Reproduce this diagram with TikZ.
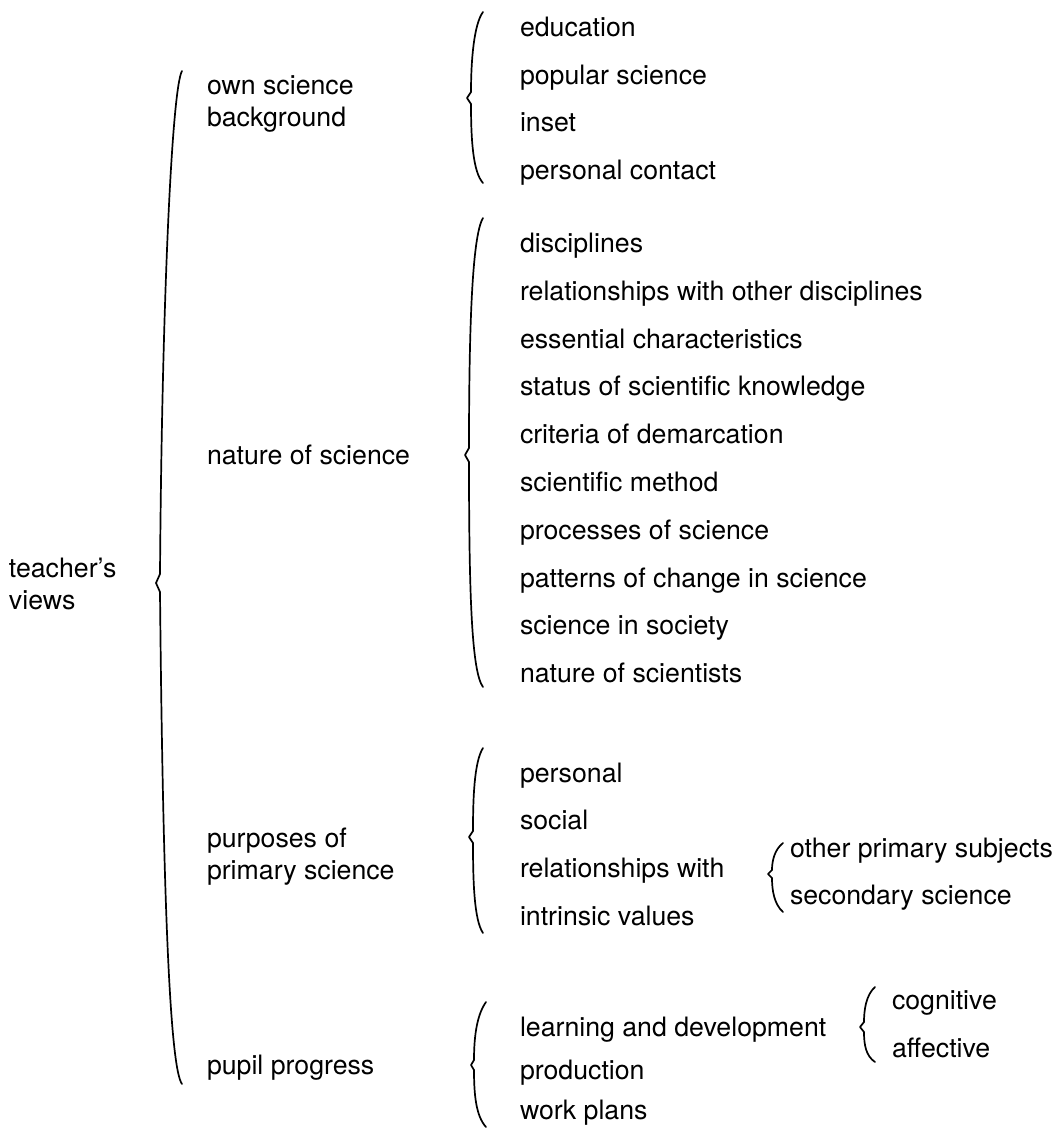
\documentclass[tikz,border=0pt]{standalone}
\usepackage{fontspec}
\setmainfont{TeX Gyre Heros}
\begin{document}
\begin{tikzpicture}[x=1pt,y=-1pt,
  lbl/.style={anchor=base west,inner sep=0pt,outer sep=0pt,font=\fontsize{26.7}{32}\selectfont},
  brc/.style={line width=1.7pt,line cap=round,line join=round}]
\useasboundingbox (0,0) rectangle (1057,1128);
% column 1
\node[lbl] (tv1) at (9,577) {teacher's};
\node[lbl] (tv2) at (9,609) {views};
% column 2
\node[lbl] (os1) at (207,94) {own science};
\node[lbl] (os2) at (207,126) {background};
\node[lbl] (ns) at (207,464) {nature of science};
\node[lbl] (pp1) at (207,847) {purposes of};
\node[lbl] (pp2) at (207,879) {primary science};
\node[lbl] (pu) at (207,1074) {pupil progress};
% column 3
\node[lbl] (a1) at (520,36) {education};
\node[lbl] (a2) at (520,84) {popular science};
\node[lbl] (a3) at (520,131) {inset};
\node[lbl] (a4) at (520,179) {personal contact};
\node[lbl] (b1) at (520,252) {disciplines};
\node[lbl] (b2) at (520,300) {relationships with other disciplines};
\node[lbl] (b3) at (520,348) {essential characteristics};
\node[lbl] (b4) at (520,395) {status of scientific knowledge};
\node[lbl] (b5) at (520,443) {criteria of demarcation};
\node[lbl] (b6) at (520,491) {scientific method};
\node[lbl] (b7) at (520,539) {processes of science};
\node[lbl] (b8) at (520,587) {patterns of change in science};
\node[lbl] (b9) at (520,634) {science in society};
\node[lbl] (b10) at (520,682) {nature of scientists};
\node[lbl] (c1) at (520,782) {personal};
\node[lbl] (c2) at (520,829) {social};
\node[lbl] (c3) at (520,877) {relationships with};
\node[lbl] (c4) at (520,925) {intrinsic values};
\node[lbl] (d1) at (520,1036) {learning and development};
\node[lbl] (d2) at (520,1079) {production};
\node[lbl] (d3) at (520,1119) {work plans};
% column 4
\node[lbl] (e1) at (790,857) {other primary subjects};
\node[lbl] (e2) at (790,904) {secondary science};
\node[lbl] (f1) at (892,1009) {cognitive};
\node[lbl] (f2) at (892,1057) {affective};
% braces
% big brace
\draw[brc] (182,71) .. controls (172,88) and (162,300) .. (160,574) -- (156,583) -- (160,592) .. controls (163,900) and (170,1068) .. (182,1084);
% own science background
\draw[brc] (483,12) .. controls (474,24) and (471,60) .. (471,92) -- (467,98) -- (471,104) .. controls (471,140) and (473,172) .. (483,183);
% nature of science
\draw[brc] (483,218) .. controls (472,236) and (469,330) .. (469,448) -- (465,455) -- (469,462) .. controls (469,600) and (472,672) .. (483,687);
% purposes
\draw[brc] (483,748) .. controls (474,762) and (473,800) .. (473,831) -- (469,837) -- (473,843) .. controls (473,880) and (474,920) .. (483,933);
% pupil progress
\draw[brc] (486,1002) .. controls (476,1016) and (474,1040) .. (474,1060) -- (471,1065) -- (474,1070) .. controls (474,1095) and (476,1116) .. (486,1127);
% relationships with
\draw[brc] (783,843) .. controls (774,850) and (772,862) .. (772,870) -- (768,874) -- (772,878) .. controls (772,890) and (774,904) .. (783,912);
% learning and development
\draw[brc] (875,987) .. controls (866,995) and (864,1010) .. (864,1022) -- (860,1027) -- (864,1032) .. controls (864,1045) and (866,1056) .. (875,1062);
\end{tikzpicture}
\end{document}
